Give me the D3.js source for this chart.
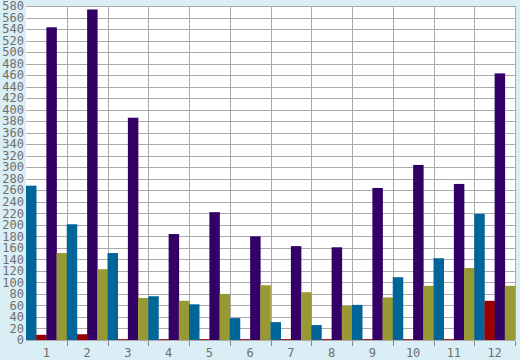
<!DOCTYPE html>
<html lang="en">
<head>
<meta charset="UTF-8">
<title>Grouped Bars</title>
<script src="https://d3js.org/d3.v7.min.js"></script>
<style>
  body { margin: 0; background: #daeef5; }
  svg { display: block; }
  text { font-family: "DejaVu Sans Mono", monospace; font-size: 12px; fill: #6e6e6e; }
</style>
</head>
<body>
<svg id="chart"></svg>
<script>
const width = 520, height = 360;

// ==== data ====
const categories = ["1","2","3","4","5","6","7","8","9","10","11","12"];
const seriesNames = ["blue", "red", "purple", "olive"];
const blueVals   = [268, 201, 151, 76, 62, 38, 31, 26, 61, 109, 142, 219];
const redVals    = [9, 10, 1.5, 1.5, 1.5, 1.5, 1.5, 1.5, 1.5, 1.5, 1.5, 68];
const purpleVals = [543, 574, 386, 184, 222, 180, 163, 161, 264, 304, 271, 463];
const oliveVals  = [151, 123, 73, 68, 80, 95, 83, 59, 74, 94, 125, 94];
const yTicks = d3.range(0, 581, 20);

const colors = { blue: "#006699", red: "#990000", purple: "#330066", olive: "#999933" };
const values = { blue: blueVals, red: redVals, purple: purpleVals, olive: oliveVals };

const svg = d3.select("#chart").attr("width", width).attr("height", height);

const x = d3.scaleBand().domain(categories).range([26, 515]).padding(0);
const xInner = d3.scaleBand().domain(seriesNames).range([0, x.bandwidth()]).padding(0);
const y = d3.scaleLinear().domain([0, 580]).range([340, 6]);

// plot background
svg.append("rect")
  .attr("x", 26).attr("y", 6)
  .attr("width", 515 - 26).attr("height", 340 - 6)
  .attr("fill", "#fff");

// horizontal grid
svg.append("g").selectAll("line")
  .data(yTicks)
  .enter().append("line")
  .attr("x1", 26).attr("x2", 515)
  .attr("y1", d => Math.round(y(d)) + 0.5).attr("y2", d => Math.round(y(d)) + 0.5)
  .attr("stroke", "#aaa");

// vertical grid at category boundaries
svg.append("g").selectAll("line")
  .data(categories.slice(1).concat(["end"]))
  .enter().append("line")
  .attr("x1", (d, i) => Math.round(26 + (i + 1) * x.step()) + 0.5)
  .attr("x2", (d, i) => Math.round(26 + (i + 1) * x.step()) + 0.5)
  .attr("y1", 6).attr("y2", 340)
  .attr("stroke", "#aaa");

// bars
const groups = svg.append("g").selectAll("g")
  .data(categories)
  .enter().append("g")
  .attr("transform", d => `translate(${x(d)},0)`);

groups.selectAll("rect")
  .data((d, i) => seriesNames.map(s => ({ s, v: values[s][i] })))
  .enter().append("rect")
  .attr("x", d => xInner(d.s))
  .attr("width", xInner.bandwidth() + 0.3)
  .attr("y", d => y(d.v))
  .attr("height", d => y(0) - y(d.v))
  .attr("fill", d => colors[d.s]);

// x axis line and ticks
svg.append("line")
  .attr("x1", 26).attr("x2", 515)
  .attr("y1", 340.5).attr("y2", 340.5)
  .attr("stroke", "#aaa");

svg.append("g").selectAll("line")
  .data(d3.range(1, 13))
  .enter().append("line")
  .attr("x1", i => Math.round(26 + i * x.step()) + 0.5)
  .attr("x2", i => Math.round(26 + i * x.step()) + 0.5)
  .attr("y1", 341).attr("y2", 346)
  .attr("stroke", "#888");

svg.append("g").selectAll("text")
  .data(categories)
  .enter().append("text")
  .attr("x", d => x(d) + x.bandwidth() / 2)
  .attr("y", 357)
  .attr("text-anchor", "middle")
  .text(d => d);

// y labels
svg.append("g").selectAll("text")
  .data(yTicks)
  .enter().append("text")
  .attr("x", 24)
  .attr("y", d => y(d))
  .attr("dy", "0.35em")
  .attr("text-anchor", "end")
  .text(d => d);
</script>
</body>
</html>
